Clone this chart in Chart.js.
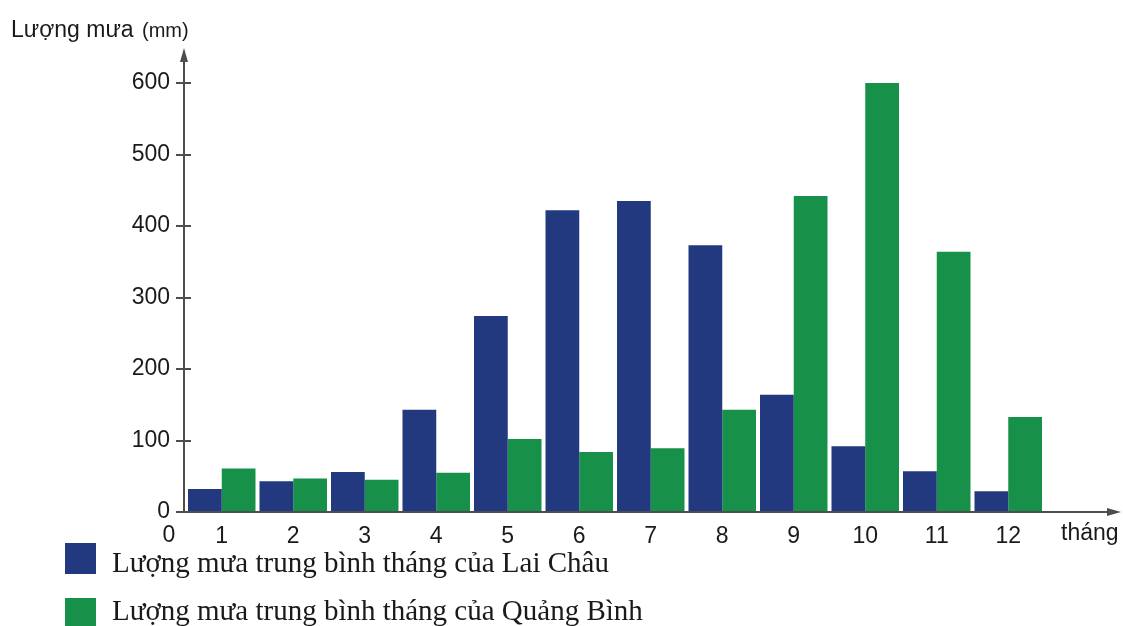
<!DOCTYPE html>
<html>
<head>
<meta charset="utf-8">
<script src="https://cdn.jsdelivr.net/npm/chart.js@4/dist/chart.umd.min.js"></script>
<style>
  html, body { margin: 0; padding: 0; background: #ffffff; }
  #wrap { width: 1123px; height: 626px; position: relative; }
</style>
</head>
<body>
<div id="wrap"><canvas id="c" width="1123" height="626"></canvas></div>
<script>
// ---- data ----
const months = ['1', '2', '3', '4', '5', '6', '7', '8', '9', '10', '11', '12'];
const laiChau = [32, 43, 56, 143, 274, 422, 435, 373, 164, 92, 57, 29];
const quangBinh = [61, 47, 45, 55, 102, 84, 89, 143, 442, 600, 364, 133];
const seriesNames = ['Lượng mưa trung bình tháng của Lai Châu', 'Lượng mưa trung bình tháng của Quảng Bình'];
const yTicks = [0, 100, 200, 300, 400, 500, 600];
const yTitle = 'Lượng mưa';
const yUnit = '(mm)';
const xTitle = 'tháng';
const originLabel = '0';

const BLUE = '#22397f';
const GREEN = '#17914a';
const AXIS = '#4d4d4d';
const TEXT = '#1a1a1a';
const SANS = '"Liberation Sans", Arial, sans-serif';
const SERIF = '"Liberation Serif", "Times New Roman", serif';

const axesPlugin = {
  id: 'axesPlugin',
  afterDraw(chart) {
    const ctx = chart.ctx;
    const ca = chart.chartArea;
    const y = chart.scales.y;
    const axX = ca.left - 2;
    const axY = ca.bottom;
    ctx.save();
    ctx.strokeStyle = AXIS;
    ctx.fillStyle = AXIS;
    ctx.lineWidth = 2;
    // y axis
    ctx.beginPath();
    ctx.moveTo(axX, axY + 1);
    ctx.lineTo(axX, 56);
    ctx.stroke();
    ctx.beginPath();
    ctx.moveTo(axX, 48);
    ctx.lineTo(axX - 4, 62);
    ctx.lineTo(axX + 4, 62);
    ctx.closePath();
    ctx.fill();
    // y tick marks
    yTicks.forEach(v => {
      const py = Math.round(y.getPixelForValue(v));
      ctx.beginPath();
      ctx.moveTo(axX - 8, py);
      ctx.lineTo(v === 0 ? axX : axX + 7, py);
      ctx.stroke();
    });
    // x axis
    ctx.beginPath();
    ctx.moveTo(axX - 8, axY);
    ctx.lineTo(1112, axY);
    ctx.stroke();
    ctx.beginPath();
    ctx.moveTo(1121, axY);
    ctx.lineTo(1107, axY - 4);
    ctx.lineTo(1107, axY + 4);
    ctx.closePath();
    ctx.fill();

    // texts
    ctx.fillStyle = TEXT;
    ctx.textBaseline = 'alphabetic';
    ctx.textAlign = 'left';
    ctx.font = '23px ' + SANS;
    ctx.fillText(yTitle, 11, 37);
    ctx.font = '20px ' + SANS;
    ctx.fillText(yUnit, 142, 37);
    ctx.textBaseline = 'middle';
    ctx.font = '23px ' + SANS;
    ctx.textAlign = 'center';
    ctx.fillText(originLabel, 169, 536);
    ctx.textAlign = 'left';
    ctx.fillText(xTitle, 1061, 534);

    // legend
    ctx.textBaseline = 'alphabetic';
    ctx.font = '29px ' + SERIF;
    chart.data.datasets.forEach((ds, i) => {
      const top = 543 + i * 55;
      ctx.fillStyle = ds.backgroundColor;
      ctx.fillRect(65, top, 31, 31);
      ctx.fillStyle = TEXT;
      ctx.fillText(ds.label, 112, 572 + i * 48);
    });
    ctx.restore();
  }
};

new Chart(document.getElementById('c'), {
  type: 'bar',
  data: {
    labels: months,
    datasets: [
      { label: seriesNames[0], data: laiChau, backgroundColor: BLUE, borderWidth: 0 },
      { label: seriesNames[1], data: quangBinh, backgroundColor: GREEN, borderWidth: 0 }
    ]
  },
  options: {
    responsive: false,
    devicePixelRatio: 1,
    animation: false,
    layout: { padding: { top: 83, right: 79, left: 0, bottom: 0 } },
    datasets: { bar: { categoryPercentage: 0.944, barPercentage: 1.0 } },
    plugins: { legend: { display: false }, tooltip: { enabled: false } },
    scales: {
      x: {
        grid: { display: false, drawTicks: false },
        border: { display: false },
        ticks: { font: { family: SANS, size: 23 }, color: TEXT, padding: 11, maxRotation: 0, autoSkip: false },
        afterFit(s) { s.height = 114; }
      },
      y: {
        min: 0, max: 600,
        afterBuildTicks(s) { s.ticks = yTicks.map(v => ({ value: v })); },
        grid: { display: false, drawTicks: false },
        border: { display: false },
        ticks: { font: { family: SANS, size: 23 }, color: TEXT, padding: 16 },
        afterFit(s) { s.width = 186; }
      }
    }
  },
  plugins: [axesPlugin]
});
</script>
</body>
</html>
